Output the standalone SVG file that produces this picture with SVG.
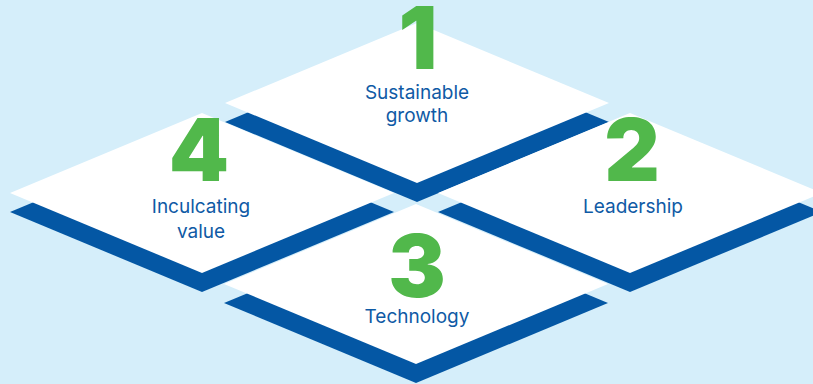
<svg xmlns="http://www.w3.org/2000/svg" width="813" height="384" viewBox="0 0 813 384">
<style>
.band{fill:#0457a4}
.top{fill:#ffffff}
.num{font-family:Inter,"Lato","DejaVu Sans",sans-serif;font-weight:900;font-size:86px;fill:#51b84b;text-anchor:middle}
.lbl{font-family:Inter,"Liberation Sans",sans-serif;font-size:19px;fill:#0f5aa5;text-anchor:middle}
</style>
<rect width="813" height="384" fill="#d5eefa"/>
<g id="node1">
<polygon class="band" points="417,42 609,122 417,202 225,122"/>
<polygon class="top" points="417,23 609,103 417,183 225,103"/>
<text class="num" x="418" y="69">1</text>
<text class="lbl" x="417" y="99">Sustainable</text>
<text class="lbl" x="417" y="122">growth</text>
</g>
<g id="node2">
<polygon class="band" points="630,132 822,212 630,292 438,212"/>
<polygon class="top" points="630,113 822,193 630,273 438,193"/>
<text class="num" x="632" y="181">2</text>
<text class="lbl" x="633" y="213">Leadership</text>
</g>
<g id="node4">
<polygon class="band" points="202,132 394,212 202,292 10,212"/>
<polygon class="top" points="202,113 394,193 202,273 10,193"/>
<text class="num" x="199" y="181">4</text>
<text class="lbl" x="201" y="213">Inculcating</text>
<text class="lbl" x="201" y="238">value</text>
</g>
<g id="node3">
<polygon class="band" points="416,223 608,303 416,383 224,303"/>
<polygon class="top" points="416,204 608,284 416,364 224,284"/>
<text class="num" x="417" y="297">3</text>
<text class="lbl" x="417" y="323">Technology</text>
</g>
<g id="connectors"></g>
</svg>
